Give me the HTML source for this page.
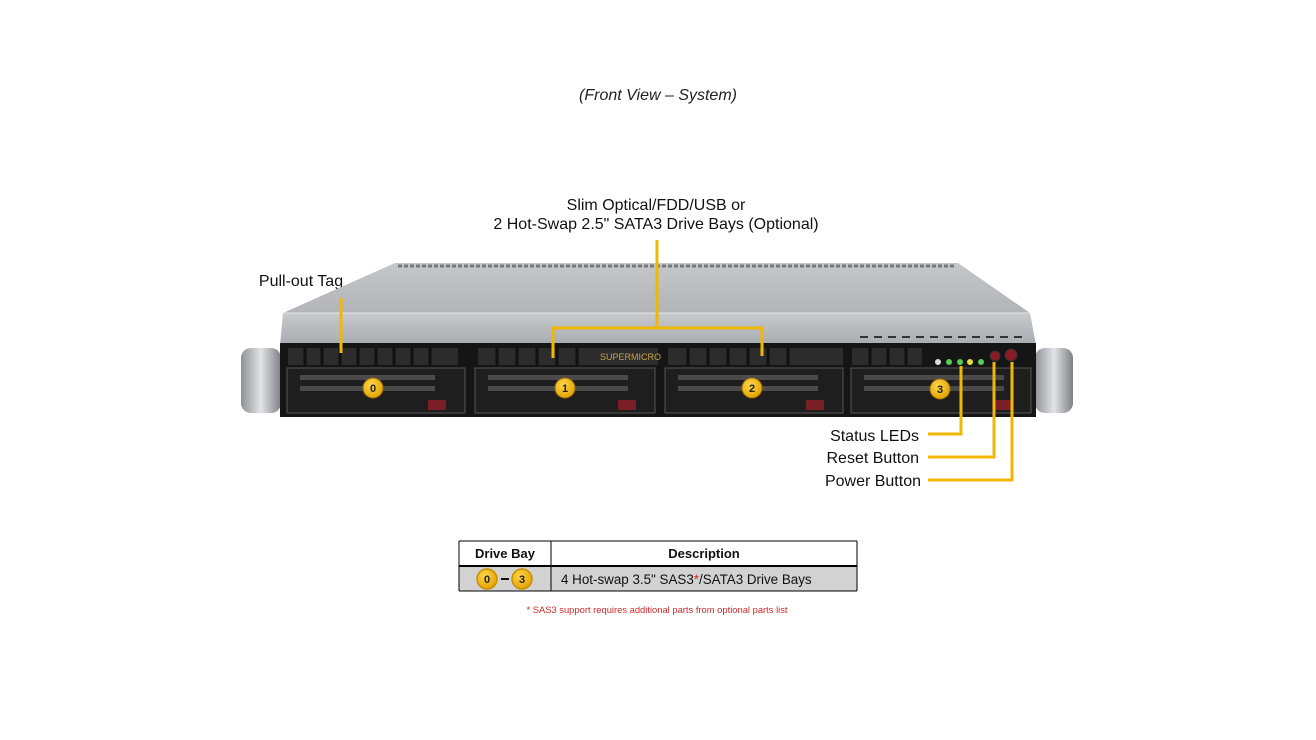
<!DOCTYPE html>
<html><head><meta charset="utf-8"><style>
html,body{margin:0;padding:0;background:#fff;width:1316px;height:740px;overflow:hidden}
svg{display:block}
text{font-family:"Liberation Sans",sans-serif}
</style></head><body>
<svg width="1316" height="740" viewBox="0 0 1316 740" xmlns="http://www.w3.org/2000/svg">
<defs>
<linearGradient id="top" x1="0" y1="0" x2="0" y2="1"><stop offset="0" stop-color="#c4c6c9"/><stop offset="1" stop-color="#b2b4b8"/></linearGradient>
<linearGradient id="lip" x1="0" y1="0" x2="0" y2="1"><stop offset="0" stop-color="#c8cacd"/><stop offset="1" stop-color="#a8abaf"/></linearGradient>
<linearGradient id="ear" x1="0" y1="0" x2="1" y2="0"><stop offset="0" stop-color="#8e9196"/><stop offset="0.5" stop-color="#e2e4e6"/><stop offset="1" stop-color="#7d8085"/></linearGradient>
<radialGradient id="gold" cx="0.4" cy="0.35" r="0.7"><stop offset="0" stop-color="#ffd54a"/><stop offset="1" stop-color="#e0a000"/></radialGradient>
</defs>
<text x="658" y="100" font-size="16" font-style="italic" text-anchor="middle" fill="#222">(Front View – System)</text>
<text x="656" y="210" font-size="16" text-anchor="middle" fill="#111">Slim Optical/FDD/USB or</text>
<text x="656" y="229" font-size="16" text-anchor="middle" fill="#111">2 Hot-Swap 2.5" SATA3 Drive Bays (Optional)</text>
<text x="301" y="286" font-size="16" text-anchor="middle" fill="#111">Pull-out Tag</text>

<rect x="241" y="348" width="40" height="65" rx="10" fill="url(#ear)"/>
<rect x="1035" y="348" width="38" height="65" rx="10" fill="url(#ear)"/>
<polygon points="395,263 958,263 1030,313 283,313" fill="url(#top)"/>
<line x1="398" y1="266" x2="955" y2="266" stroke="#777" stroke-width="3" stroke-dasharray="4,2"/>
<polygon points="283,313 1030,313 1036,345 280,345" fill="url(#lip)"/>
<line x1="283" y1="313" x2="1030" y2="313" stroke="#e6e7e9" stroke-width="1"/>
<g stroke="#333" stroke-width="2"><line x1="860" y1="337" x2="1025" y2="337" stroke-dasharray="8,6"/></g>
<rect x="280" y="343" width="756" height="74" fill="#151515"/>
<g fill="#2c2c2c">
<rect x="288" y="348" width="170" height="17"/>
<rect x="478" y="348" width="180" height="17"/>
<rect x="668" y="348" width="175" height="17"/>
<rect x="852" y="348" width="70" height="17"/>
</g>
<g stroke="#111" stroke-width="3">
<line x1="305" y1="348" x2="305" y2="365"/><line x1="322" y1="348" x2="322" y2="365"/><line x1="340" y1="348" x2="340" y2="365"/><line x1="358" y1="348" x2="358" y2="365"/><line x1="376" y1="348" x2="376" y2="365"/><line x1="394" y1="348" x2="394" y2="365"/><line x1="412" y1="348" x2="412" y2="365"/><line x1="430" y1="348" x2="430" y2="365"/>
<line x1="497" y1="348" x2="497" y2="365"/><line x1="517" y1="348" x2="517" y2="365"/><line x1="537" y1="348" x2="537" y2="365"/><line x1="557" y1="348" x2="557" y2="365"/><line x1="577" y1="348" x2="577" y2="365"/>
<line x1="688" y1="348" x2="688" y2="365"/><line x1="708" y1="348" x2="708" y2="365"/><line x1="728" y1="348" x2="728" y2="365"/><line x1="748" y1="348" x2="748" y2="365"/><line x1="768" y1="348" x2="768" y2="365"/><line x1="788" y1="348" x2="788" y2="365"/>
<line x1="870" y1="348" x2="870" y2="365"/><line x1="888" y1="348" x2="888" y2="365"/><line x1="906" y1="348" x2="906" y2="365"/>
</g>
<text x="600" y="360" font-size="9" font-family="Liberation Serif" fill="#c9a24a">SUPERMICRO</text>
<g>
<rect x="287" y="368" width="178" height="45" fill="#1e1e1e" stroke="#555" stroke-width="1"/>
<rect x="475" y="368" width="180" height="45" fill="#1e1e1e" stroke="#555" stroke-width="1"/>
<rect x="665" y="368" width="178" height="45" fill="#1e1e1e" stroke="#555" stroke-width="1"/>
<rect x="851" y="368" width="180" height="45" fill="#1e1e1e" stroke="#555" stroke-width="1"/>
</g>
<g fill="#4a4a4a">
<rect x="300" y="375" width="135" height="5"/><rect x="300" y="386" width="135" height="5"/>
<rect x="488" y="375" width="140" height="5"/><rect x="488" y="386" width="140" height="5"/>
<rect x="678" y="375" width="140" height="5"/><rect x="678" y="386" width="140" height="5"/>
<rect x="864" y="375" width="140" height="5"/><rect x="864" y="386" width="140" height="5"/>
</g>
<g fill="#7a1f25">
<rect x="428" y="400" width="18" height="10"/><rect x="618" y="400" width="18" height="10"/><rect x="806" y="400" width="18" height="10"/><rect x="995" y="400" width="18" height="10"/>
</g>
<g>
<circle cx="938" cy="362" r="3" fill="#ddd"/><circle cx="949" cy="362" r="3" fill="#5c5"/><circle cx="960" cy="362" r="3" fill="#5c5"/><circle cx="970" cy="362" r="3" fill="#dd4"/><circle cx="981" cy="362" r="3" fill="#5c5"/>
<circle cx="995" cy="356" r="5" fill="#8a1a25" stroke="#333"/><circle cx="1011" cy="355" r="6" fill="#8a1a25" stroke="#333"/>
</g>
<g font-size="11" font-weight="bold" text-anchor="middle" fill="#222">
<circle cx="373" cy="388" r="10" fill="url(#gold)" stroke="#9a7000" stroke-width="1"/><text x="373" y="392">0</text>
<circle cx="565" cy="388" r="10" fill="url(#gold)" stroke="#9a7000" stroke-width="1"/><text x="565" y="392">1</text>
<circle cx="752" cy="388" r="10" fill="url(#gold)" stroke="#9a7000" stroke-width="1"/><text x="752" y="392">2</text>
<circle cx="940" cy="389" r="10" fill="url(#gold)" stroke="#9a7000" stroke-width="1"/><text x="940" y="393">3</text>
</g>
<g stroke="#f2b705" stroke-width="3" fill="none">
<polyline points="657,240 657,328"/>
<polyline points="553,358 553,328 762,328 762,356"/>
<polyline points="341,298 341,353"/>
<polyline points="961,366 961,434 928,434"/>
<polyline points="994,362 994,457 928,457"/>
<polyline points="1012,362 1012,480 928,480"/>
</g>
<text x="919" y="441" font-size="16" text-anchor="end" fill="#111">Status LEDs</text>
<text x="919" y="463" font-size="16" text-anchor="end" fill="#111">Reset Button</text>
<text x="921" y="486" font-size="16" text-anchor="end" fill="#111">Power Button</text>

<rect x="459" y="566" width="398" height="25" fill="#d2d2d2"/>
<g stroke="#000" fill="none">
<line x1="459" y1="541" x2="857" y2="541" stroke-width="1"/>
<line x1="459" y1="566" x2="857" y2="566" stroke-width="2"/>
<line x1="459" y1="591" x2="857" y2="591" stroke-width="1"/>
<line x1="459" y1="541" x2="459" y2="591"/>
<line x1="857" y1="541" x2="857" y2="591"/>
<line x1="551" y1="541" x2="551" y2="591"/>
</g>
<text x="505" y="558" font-size="13" font-weight="bold" text-anchor="middle" fill="#111">Drive Bay</text>
<text x="704" y="558" font-size="13" font-weight="bold" text-anchor="middle" fill="#111">Description</text>
<circle cx="487" cy="579" r="10" fill="url(#gold)" stroke="#c89000" stroke-width="1.5"/>
<text x="487" y="583" font-size="11" font-weight="bold" text-anchor="middle" fill="#222">0</text>
<line x1="501" y1="579" x2="509" y2="579" stroke="#111" stroke-width="2"/>
<circle cx="522" cy="579" r="10" fill="url(#gold)" stroke="#c89000" stroke-width="1.5"/>
<text x="522" y="583" font-size="11" font-weight="bold" text-anchor="middle" fill="#222">3</text>
<text x="561" y="584" font-size="13.4" fill="#111">4 Hot-swap 3.5" SAS3<tspan fill="#d03030">*</tspan>/SATA3 Drive Bays</text>
<text x="657" y="613" font-size="9.4" text-anchor="middle" fill="#cc2a2a">* SAS3 support requires additional parts from optional parts list</text>
</svg>
</body></html>
